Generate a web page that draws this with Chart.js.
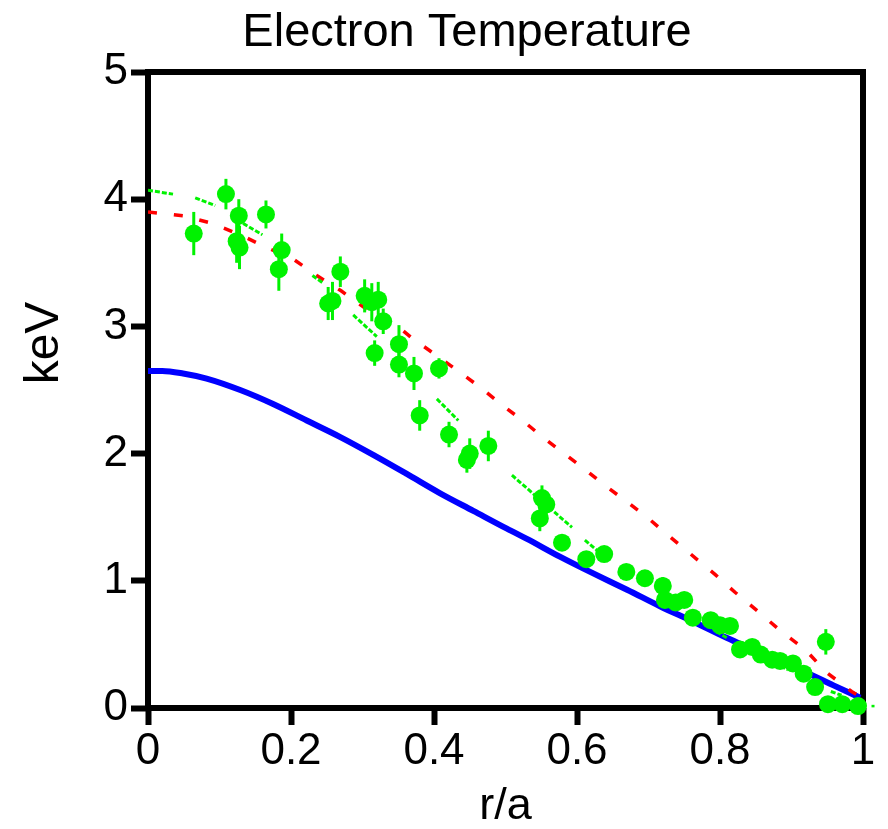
<!DOCTYPE html>
<html>
<head>
<meta charset="utf-8">
<script src="https://cdn.jsdelivr.net/npm/chart.js@4/dist/chart.umd.min.js"></script>
<style>
  body { margin: 0; background: #fff; }
</style>
</head>
<body>
<canvas id="teChart" width="888" height="829"></canvas>
<script>
// measured Te points (r/a, keV, error)
const pointR = [0.064, 0.109, 0.127, 0.124, 0.128, 0.165, 0.187, 0.183, 0.252, 0.258, 0.269, 0.303, 0.313, 0.322, 0.329, 0.317, 0.351, 0.351, 0.372, 0.38, 0.407, 0.421, 0.446, 0.45, 0.476, 0.548, 0.551, 0.557, 0.579, 0.613, 0.638, 0.669, 0.695, 0.72, 0.723, 0.738, 0.75, 0.762, 0.787, 0.8, 0.814, 0.828, 0.845, 0.857, 0.873, 0.884, 0.902, 0.917, 0.933, 0.948, 0.951, 0.971, 0.993, 1.014];
const pointT = [3.73, 4.04, 3.87, 3.67, 3.62, 3.88, 3.6, 3.45, 3.18, 3.2, 3.43, 3.24, 3.19, 3.21, 3.04, 2.79, 2.86, 2.7, 2.63, 2.3, 2.67, 2.15, 1.95, 2.0, 2.06, 1.49, 1.65, 1.6, 1.3, 1.17, 1.21, 1.07, 1.02, 0.96, 0.85, 0.83, 0.85, 0.71, 0.69, 0.65, 0.645, 0.46, 0.48, 0.42, 0.38, 0.37, 0.35, 0.27, 0.165, 0.52, 0.03, 0.03, 0.015, 0.015];
const pointErr = [0.17, 0.12, 0.13, 0.17, 0.17, 0.11, 0.13, 0.17, 0.13, 0.15, 0.12, 0.13, 0.15, 0.14, 0.1, 0.1, 0.15, 0.1, 0.13, 0.12, 0.08, 0.1, 0.1, 0.12, 0.12, 0.1, 0.1, 0.08, 0.06, 0.06, 0.05, 0.06, 0.05, 0.07, 0.05, 0.04, 0.04, 0.03, 0.03, 0.03, 0.03, 0.02, 0.02, 0.02, 0.02, 0.02, 0.02, 0.02, 0.02, 0.1, 0.01, 0.01, 0.01, 0.01];

// green fit, drawn in pieces (null = gap)
const fitR = [0, 0.035, 0.05, 0.066, 0.094, 0.11, 0.133, 0.16, 0.2, 0.23, 0.245, 0.26, 0.287, 0.32, 0.36, 0.404, 0.434, 0.47, 0.509, 0.55, 0.593, 0.6, 0.611, 0.628, 0.7, 0.795, 0.81, 0.85, 0.885, 0.895, 0.93, 0.955, 0.97];
const fitT = [4.07, 4.04, null, 4.01, 3.95, null, 3.81, 3.72, null, 3.4, 3.34, null, 3.09, 2.92, null, 2.43, 2.26, null, 1.83, 1.63, 1.42, null, 1.32, 1.24, null, 0.6, 0.55, null, 0.33, 0.3, null, 0.13, 0.1];

// red dashed profile
const redR = [0, 0.049, 0.09, 0.129, 0.166, 0.203, 0.236, 0.27, 0.302, 0.343, 0.371, 0.404, 0.436, 0.465, 0.498, 0.524, 0.554, 0.582, 0.608, 0.639, 0.67, 0.7, 0.727, 0.759, 0.793, 0.821, 0.853, 0.886, 0.919, 0.949, 0.984, 0.999];
const redT = [3.9, 3.87, 3.81, 3.72, 3.62, 3.53, 3.4, 3.28, 3.15, 3.03, 2.9, 2.77, 2.64, 2.52, 2.37, 2.26, 2.12, 2.0, 1.89, 1.75, 1.62, 1.49, 1.36, 1.21, 1.05, 0.91, 0.76, 0.6, 0.46, 0.28, 0.13, 0.08];

// blue profile
const blueR = [0, 0.02, 0.049, 0.082, 0.129, 0.175, 0.222, 0.269, 0.315, 0.362, 0.408, 0.455, 0.502, 0.53, 0.576, 0.622, 0.67, 0.716, 0.762, 0.81, 0.842, 0.866, 0.912, 0.958, 0.996];
const blueT = [2.65, 2.65, 2.63, 2.59, 2.5, 2.39, 2.26, 2.13, 1.99, 1.84, 1.69, 1.55, 1.41, 1.33, 1.19, 1.06, 0.93, 0.8, 0.68, 0.55, 0.47, 0.41, 0.3, 0.18, 0.08];

const xTickLabels = ['0', '0.2', '0.4', '0.6', '0.8', '1'];
const yTickLabels = ['0', '1', '2', '3', '4', '5'];
const titleText = 'Electron Temperature';
const yTitle = 'keV';
const xTitle = 'r/a';

const green = 'rgb(0,242,0)';
const fontFamily = '"Liberation Sans", Arial, sans-serif';

const toXY = (xs, ys) => xs.map((x, i) => ({x: x, y: ys[i]}));

// box around the plot area
const frame = {
    id: 'frame',
    beforeDatasetsDraw(chart) {
        const {ctx, chartArea: a} = chart;
        ctx.save();
        ctx.strokeStyle = '#000';
        ctx.lineWidth = 6;
        ctx.lineJoin = 'miter';
        ctx.strokeRect(a.left, a.top, a.right - a.left, a.bottom - a.top);
        ctx.restore();
    }
};

// vertical error bars for the measured points
const errorBars = {
    id: 'errorBars',
    beforeDatasetDraw(chart, args) {
        if (args.index !== 0) return;
        const {ctx, scales: {x, y}} = chart;
        ctx.save();
        ctx.strokeStyle = green;
        ctx.lineWidth = 3;
        pointR.forEach((r, i) => {
            const px = x.getPixelForValue(r);
            ctx.beginPath();
            ctx.moveTo(px, y.getPixelForValue(pointT[i] + pointErr[i]));
            ctx.lineTo(px, y.getPixelForValue(pointT[i] - pointErr[i]));
            ctx.stroke();
        });
        ctx.restore();
    }
};

// chart title and y title sit off-centre in the original, so place them by hand
const titles = {
    id: 'titles',
    afterDraw(chart) {
        const ctx = chart.ctx;
        ctx.save();
        ctx.fillStyle = '#000';
        ctx.textAlign = 'center';
        ctx.textBaseline = 'alphabetic';
        ctx.font = '47px ' + fontFamily;
        ctx.fillText(titleText, 467, 46);

        ctx.font = '48px ' + fontFamily;
        ctx.translate(58, 343);
        ctx.rotate(-Math.PI / 2);
        ctx.fillText(yTitle, 0, 0);
        ctx.restore();
    }
};

new Chart(document.getElementById('teChart'), {
    type: 'scatter',
    data: {
        datasets: [
            {
                data: toXY(pointR, pointT),
                backgroundColor: green,
                borderWidth: 0,
                pointRadius: 9,
                clip: false
            },
            {
                type: 'line',
                data: toXY(fitR, fitT),
                borderColor: green,
                borderWidth: 3,
                borderDash: [5, 2],
                pointRadius: 0,
                spanGaps: false,
                fill: false
            },
            {
                type: 'line',
                data: toXY(redR, redT),
                borderColor: '#ff0000',
                borderWidth: 3.5,
                borderDash: [9, 17],
                pointRadius: 0,
                fill: false
            },
            {
                type: 'line',
                data: toXY(blueR, blueT),
                borderColor: '#0000ff',
                borderWidth: 6,
                pointRadius: 0,
                cubicInterpolationMode: 'monotone',
                fill: false
            }
        ]
    },
    options: {
        responsive: false,
        animation: false,
        devicePixelRatio: 1,
        layout: { padding: { left: 0, right: 25, top: 72, bottom: 0 } },
        plugins: {
            legend: { display: false },
            tooltip: { enabled: false },
            title: { display: false }
        },
        scales: {
            x: {
                type: 'linear',
                min: 0,
                max: 1,
                afterFit: (scale) => { scale.height = 121; },
                border: { display: false },
                grid: { drawOnChartArea: false, drawTicks: true, tickLength: 17, tickWidth: 6, tickColor: '#000' },
                ticks: {
                    stepSize: 0.2,
                    autoSkip: false,
                    maxRotation: 0,
                    color: '#000',
                    padding: 0,
                    font: { family: fontFamily, size: 44 },
                    callback: (v, i) => xTickLabels[i]
                },
                title: {
                    display: true,
                    text: xTitle,
                    color: '#000',
                    font: { family: fontFamily, size: 45, lineHeight: 1 },
                    padding: { top: 0, bottom: 0 }
                }
            },
            y: {
                type: 'linear',
                min: 0,
                max: 5,
                afterFit: (scale) => { scale.width = 148; },
                border: { display: false },
                grid: { drawOnChartArea: false, drawTicks: true, tickLength: 17, tickWidth: 6, tickColor: '#000' },
                ticks: {
                    stepSize: 1,
                    color: '#000',
                    padding: 3,
                    font: { family: fontFamily, size: 44 },
                    callback: (v, i) => yTickLabels[i]
                }
            }
        }
    },
    plugins: [frame, errorBars, titles]
});
</script>
</body>
</html>
